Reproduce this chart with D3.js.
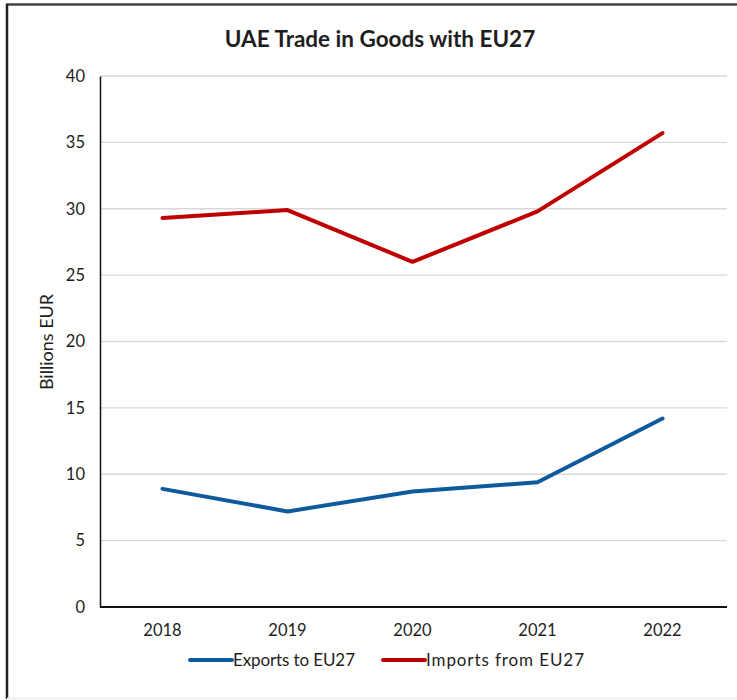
<!DOCTYPE html>
<html>
<head>
<meta charset="utf-8">
<script src="https://cdn.jsdelivr.net/npm/d3@7"></script>
<style>
  body { margin: 0; background: #fff; }
  text { font-family: Lato, "Open Sans", sans-serif; fill: #1e1e1e; }
</style>
</head>
<body>
<div id="chart"></div>
<script>
// data
var years = ["2018", "2019", "2020", "2021", "2022"];
var exportsEU = [8.9, 7.2, 8.7, 9.4, 14.2];
var importsEU = [29.3, 29.9, 26.0, 29.8, 35.7];
var yTicks = [0, 5, 10, 15, 20, 25, 30, 35, 40];
var seriesNames = ["Exports to EU27", "Imports from EU27"];
var seriesColors = ["#0f5a9c", "#c00000"];

var W = 737, H = 700;
var svg = d3.select("#chart").append("svg")
    .attr("width", W)
    .attr("height", H);

// frame
svg.append("line").attr("x1", 6).attr("x2", W).attr("y1", 4.5).attr("y2", 4.5)
    .style("stroke", "#444").style("stroke-width", 2.5);
svg.append("line").attr("x1", 7).attr("x2", 7).attr("y1", 4).attr("y2", 699)
    .style("stroke", "#222").style("stroke-width", 2.5);
svg.append("line").attr("x1", 7).attr("x2", W).attr("y1", 698.5).attr("y2", 698.5)
    .style("stroke", "#eee").style("stroke-width", 2);

var plotL = 100, plotR = 725, plotT = 76, plotB = 607;

var x = d3.scaleBand().domain(years).range([plotL, plotR]);
var y = d3.scaleLinear().domain([0, 40]).range([plotB, plotT]);

// grid
svg.append("g").selectAll("line")
    .data(yTicks.filter(function(d){ return d > 0; }))
    .enter().append("line")
    .attr("x1", plotL).attr("x2", plotR + 2)
    .attr("y1", function(d){ return y(d); })
    .attr("y2", function(d){ return y(d); })
    .style("stroke", "#d9d9d9")
    .style("stroke-width", 1.3);

// y axis
var yAxis = svg.append("g")
    .attr("transform", "translate(" + plotL + ",0)")
    .call(d3.axisLeft(y).tickValues(yTicks).tickSize(0).tickPadding(15));
yAxis.select(".domain").style("stroke", "#111").style("stroke-width", 1.5);
yAxis.selectAll("text").style("font-size", "16.5px");

// x axis
var xAxis = svg.append("g")
    .attr("transform", "translate(0," + plotB + ")")
    .call(d3.axisBottom(x).tickSize(0).tickPadding(17));
xAxis.select(".domain").attr("d", "M" + plotL + ",0H" + (plotR + 2))
    .style("stroke", "#111").style("stroke-width", 1.8);
xAxis.selectAll("text").style("font-size", "16.5px");

// y title
svg.append("text")
    .attr("transform", "translate(53," + 342 + ") rotate(-90)")
    .attr("text-anchor", "middle")
    .style("font-size", "18px")
    .text("Billions EUR");

// title
svg.append("text")
    .attr("x", 380).attr("y", 47)
    .attr("text-anchor", "middle")
    .style("font-size", "22.5px")
    .style("font-weight", "bold")
    .text("UAE Trade in Goods with EU27");

// lines
var line = d3.line()
    .x(function(d, i){ return x(years[i]) + x.bandwidth() / 2; })
    .y(function(d){ return y(d); });

[exportsEU, importsEU].forEach(function(vals, k) {
    svg.append("path")
        .datum(vals)
        .attr("d", line)
        .style("fill", "none")
        .style("stroke", seriesColors[k])
        .style("stroke-width", 4)
        .style("stroke-linecap", "round")
        .style("stroke-linejoin", "round");
});

// legend
var legendX = [190, 383];
var legendW = [122, 158];
seriesNames.forEach(function(name, k) {
    var g = svg.append("g").attr("transform", "translate(" + legendX[k] + ",660)");
    g.append("line").attr("x1", 0).attr("x2", 42).attr("y1", 0).attr("y2", 0)
        .style("stroke", seriesColors[k]).style("stroke-width", 4)
        .style("stroke-linecap", "round");
    g.append("text").attr("x", 43).attr("y", 6)
        .style("font-size", "17px")
        .attr("textLength", legendW[k])
        .text(name);
});
</script>
</body>
</html>
